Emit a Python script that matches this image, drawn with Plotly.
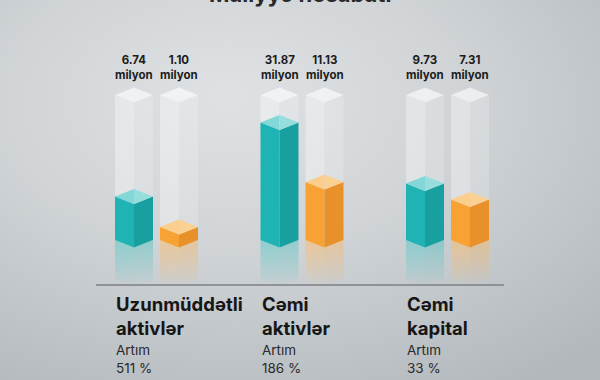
import base64
import plotly.graph_objects as go

# ---------------- data ----------------
title_text = "Maliyyə hesabatı"
categories = ["Uzunmüddətli<br>aktivlər", "Cəmi<br>aktivlər", "Cəmi<br>kapital"]
growth_labels = ["511 %", "186 %", "33 %"]
teal_values = [6.74, 31.87, 9.73]       # million (label values)
orange_values = [1.10, 11.13, 7.31]     # million (label values)
# visual fill level of each glass column (share of glass height)
teal_levels = [0.30, 0.81, 0.39]
orange_levels = [0.09, 0.40, 0.28]
unit = "milyon"

# ---------------- geometry (pixel-like units) ----------------
W, H = 600, 380
PX = 145.0                 # px per unit of level (glass height)
BASE_PX = 240              # px row of the column base (side edges)
Y0 = -(H - BASE_PX) / PX   # axis bottom
Y1 = BASE_PX / PX          # axis top
D = 7.5 / PX               # isometric depth
HALF = 19                  # half column width (x units = px)
FIRST = 134
GROUP_STEP = 145.5
PAIR_STEP = 45

TEAL = dict(left="#1fb3b3", right="#189f9f", topl="#45c3c3", topr="#7fd6d6", rgb="31,179,179")
ORANGE = dict(left="#f7a233", right="#e8912a", topl="#f9b552", topr="#fbc67c", rgb="247,162,51")

fig = go.Figure()


def poly(xs, ys, color, **kw):
    fig.add_trace(go.Scatter(x=xs + [xs[0]], y=ys + [ys[0]], mode="lines", fill="toself",
                             fillcolor=color, line=dict(width=0), hoverinfo="skip",
                             showlegend=False, **kw))


def grad_poly(xs, ys, rgb, alpha):
    fig.add_trace(go.Scatter(
        x=xs + [xs[0]], y=ys + [ys[0]], mode="lines", fill="toself",
        line=dict(width=0), hoverinfo="skip", showlegend=False,
        fillgradient=dict(type="vertical",
                          colorscale=[[0, f"rgba({rgb},0)"],
                                      [1, f"rgba({rgb},{alpha})"]])))


def column(xc, level, pal):
    xl, xr = xc - HALF, xc + HALF
    R = 0.27
    # reflection below base (coloured + glass)
    grad_poly([xl, xc, xc, xl], [0, -D, -D - R, -R], pal["rgb"], 0.50)
    grad_poly([xc, xr, xr, xc], [-D, 0, -R, -D - R], pal["rgb"], 0.42)
    grad_poly([xl, xc, xc, xl], [0, -D, -D - R, -R], "255,255,255", 0.18)
    grad_poly([xc, xr, xr, xc], [-D, 0, -R, -D - R], "255,255,255", 0.10)
    # coloured solid
    L = level
    poly([xl, xc, xc, xl], [L, L - D, -D, 0], pal["left"])
    poly([xc, xr, xr, xc], [L - D, L, 0, -D], pal["right"])
    poly([xl, xc, xc], [L, L + D, L - D], pal["topl"])
    poly([xc, xr, xc], [L + D, L, L - D], pal["topr"])
    # glass above
    G = 1.0
    poly([xl, xc, xc, xl], [G, G - D, L - D, L], "rgba(255,255,255,0.34)")
    poly([xc, xr, xr, xc], [G - D, G, L, L - D], "rgba(255,255,255,0.18)")
    poly([xl, xc, xr, xc], [G, G + D, G, G - D], "rgba(255,255,255,0.60)")


annotations = []
for g in range(len(categories)):
    gx = FIRST + GROUP_STEP * g
    for s, (vals, lev, pal) in enumerate(((teal_values, teal_levels, TEAL),
                                          (orange_values, orange_levels, ORANGE))):
        xc = gx + PAIR_STEP * s
        column(xc, lev[g], pal)
        annotations.append(dict(
            x=xc, y=(BASE_PX - 67) / PX, xref="x", yref="y", showarrow=False,
            text=f"<b>{vals[g]:.2f}</b><br><b>{unit}</b>",
            font=dict(family="Inter", size=11.5, color="#1c1c1c"),
            align="center", yanchor="middle"))
    xl = gx - HALF - 1
    annotations.append(dict(
        x=xl, y=(BASE_PX - 316) / PX, xref="x", yref="y", showarrow=False,
        text=f"<b>{categories[g]}</b>", xanchor="left", yanchor="middle", align="left",
        font=dict(family="Inter", size=18.5, color="#161616")))
    annotations.append(dict(
        x=xl, y=(BASE_PX - 359) / PX, xref="x", yref="y", showarrow=False,
        text=f"Artım<br>{growth_labels[g]}", xanchor="left", yanchor="middle", align="left",
        font=dict(family="Inter", size=13.5, color="#2a2a2a")))

# title (cut off at the top edge like the reference)
annotations.append(dict(
    x=0.5, y=1 - 8.5 / H, xref="paper", yref="paper", showarrow=False,
    text=f"<b>{title_text}</b>", xanchor="center", yanchor="bottom",
    font=dict(family="Inter", size=22, color="#2a2a2a")))

# baseline
fig.add_shape(type="line", x0=96, x1=504, y0=(BASE_PX - 285) / PX, y1=(BASE_PX - 285) / PX,
              xref="x", yref="y", line=dict(color="#7c8185", width=1.5))

svg = f"""<svg xmlns='http://www.w3.org/2000/svg' width='{W}' height='{H}'>
<defs><radialGradient id='g' cx='0.40' cy='0.30' r='0.85' fx='0.38' fy='0.25'>
<stop offset='0' stop-color='#dfe2e5'/>
<stop offset='0.45' stop-color='#d0d4d7'/>
<stop offset='1' stop-color='#b2b8bc'/>
</radialGradient></defs>
<rect width='{W}' height='{H}' fill='url(#g)'/></svg>"""
bg = "data:image/svg+xml;base64," + base64.b64encode(svg.encode()).decode()

fig.update_layout(
    width=W, height=H, margin=dict(l=0, r=0, t=0, b=0),
    paper_bgcolor="#cfd3d6", plot_bgcolor="rgba(0,0,0,0)",
    xaxis=dict(range=[0, W], visible=False, fixedrange=True),
    yaxis=dict(range=[Y0, Y1], visible=False, fixedrange=True),
    annotations=annotations, showlegend=False,
    images=[dict(source=bg, xref="paper", yref="paper", x=0, y=1, sizex=1, sizey=1,
                 sizing="stretch", layer="below", xanchor="left", yanchor="top")],
)

fig.write_html("out.html", config=dict(displayModeBar=False))
